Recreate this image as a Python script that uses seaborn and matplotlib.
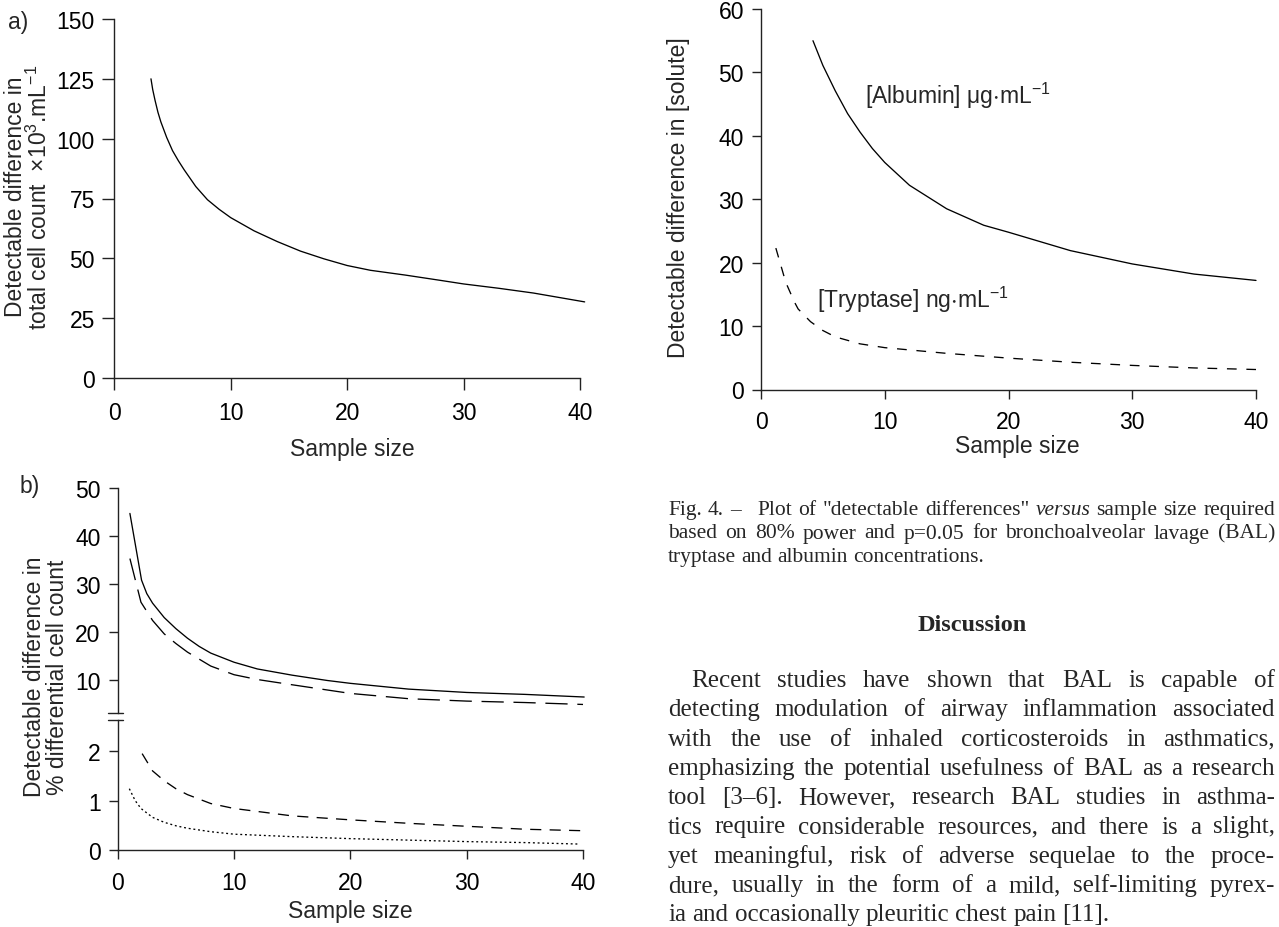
import matplotlib
matplotlib.use("Agg")

import numpy as np
import matplotlib.pyplot as plt
import seaborn as sns

W, H = 1279, 928

# ---- data ---------------------------------------------------------------
# a) total cell count
a_n = [3.15, 3.3, 3.5, 3.75, 4, 4.5, 5, 5.5, 6, 7, 8, 9, 10, 12, 14, 16, 18, 20, 22, 25, 28, 30,
       33, 36, 40.4]
a_diff = [125, 120.5, 116, 111, 107, 100.5, 95, 90.8, 87, 80, 74.5, 70.5, 67, 61.5, 57, 53, 49.8,
          47, 45, 43, 40.8, 39.3, 37.5, 35.5, 31.8]

# b) differential cell count (upper part of broken axis)
b_solid_n = [1.05, 2.05, 2.5, 3, 4, 5, 6, 7, 8, 10, 12, 15, 18, 20, 25, 30, 35, 40.1]
b_solid = [44.7, 30.8, 28, 26, 23, 20.7, 18.7, 17, 15.6, 13.7, 12.3, 11, 9.9, 9.3, 8.1, 7.4, 7.0, 6.45]
b_long_n = [1.05, 2.0, 3, 4, 5, 6, 8, 10, 12, 15, 20, 25, 30, 35, 40]
b_long = [35.3, 26.2, 22.4, 19.6, 17.6, 15.8, 12.9, 11.1, 10.1, 9.0, 7.2, 6.1, 5.6, 5.3, 4.9]
# b) lower part
b_dash_n = [2.1, 3, 4, 5, 6, 8, 10, 15, 20, 25, 30, 35, 40]
b_dash = [1.95, 1.6, 1.4, 1.24, 1.12, 0.94, 0.84, 0.69, 0.61, 0.54, 0.48, 0.42, 0.39]
b_dot_n = [1.0, 1.5, 2, 3, 4, 5, 6, 8, 10, 15, 20, 25, 30, 35, 39.7]
b_dot = [1.24, 1.0, 0.84, 0.66, 0.56, 0.49, 0.44, 0.37, 0.32, 0.27, 0.23, 0.20, 0.17, 0.15, 0.12]

# right panel: solutes
alb_n = [4.2, 5, 6, 7, 8, 9, 10, 12, 15, 18, 20, 25, 30, 35, 40]
alb = [55, 51.1, 47.1, 43.5, 40.6, 38, 35.8, 32.2, 28.5, 25.9, 24.8, 21.9, 19.8, 18.2, 17.2]
try_n = [1.2, 2, 2.7, 3, 4, 5, 6, 8, 10, 15, 20, 25, 30, 35, 40]
tryp = [22.3, 16.9, 13.8, 12.7, 10.7, 9.3, 8.3, 7.2, 6.6, 5.7, 4.95, 4.3, 3.8, 3.4, 3.15]

x_ticks = [0, 10, 20, 30, 40]

caption_lines = [
    [("Fig.", "normal"), ("4.", "normal"), ("–\u2002", "normal"), ("Plot", "normal"), ("of", "normal"),
     ('"detectable', "normal"), ('differences"', "normal"), ("versus", "italic"),
     ("sample", "normal"), ("size", "normal"), ("required", "normal")],
    "based on 80% power and p=0.05 for bronchoalveolar lavage (BAL)",
    "tryptase and albumin concentrations.",
]
discussion_lines = [
    "Recent studies have shown that BAL is capable of",
    "detecting modulation of airway inflammation associated",
    "with the use of inhaled corticosteroids in asthmatics,",
    "emphasizing the potential usefulness of BAL as a research",
    "tool [3–6].  However, research BAL studies in asthma-",
    "tics require considerable resources, and there is a slight,",
    "yet meaningful, risk of adverse sequelae to the proce-",
    "dure, usually in the form of a mild, self-limiting pyrex-",
    "ia and occasionally pleuritic chest pain [11].",
]

# ---- style ---------------------------------------------------------------
sns.set_style("ticks")
SANS = ["Liberation Sans", "DejaVu Sans"]
SERIF = ["Liberation Serif", "DejaVu Serif"]
plt.rcParams["font.family"] = SANS
plt.rcParams["mathtext.default"] = "regular"
plt.rcParams["lines.scale_dashes"] = False
plt.rcParams["axes.edgecolor"] = "#222222"
plt.rcParams["axes.linewidth"] = 1.0
plt.rcParams["xtick.color"] = "#222222"
plt.rcParams["ytick.color"] = "#222222"
plt.rcParams["xtick.labelcolor"] = "black"
plt.rcParams["ytick.labelcolor"] = "black"
FS = 16.5
LW = 0.95

fig = plt.figure(figsize=(W / 100, H / 100), dpi=100)


def px_axes(x0, y_top, x1, y_bot):
    return fig.add_axes([x0 / W, 1 - y_bot / H, (x1 - x0) / W, (y_bot - y_top) / H])


def style_ax(ax, ticklen=7):
    ax.tick_params(labelsize=FS, length=ticklen, width=1.0)
    ax.tick_params(axis="x", pad=8)
    ax.tick_params(axis="y", pad=5.5)
    ax.set_facecolor("none")


def line(ax, x, y, ls="-"):
    sns.lineplot(x=x, y=y, ax=ax, color="black", linewidth=LW, linestyle=ls,
                 clip_on=False, errorbar=None)


# ---- panel a -------------------------------------------------------------
ax_a = px_axes(114.3, 20, 580, 379)
line(ax_a, a_n, a_diff)
ax_a.set_xlim(0, 40)
ax_a.set_ylim(0, 150)
ax_a.set_xticks(x_ticks)
ax_a.set_yticks(range(0, 151, 25))
sns.despine(ax=ax_a)
style_ax(ax_a, 8.5)
fig.text(28 / W, 1 - 197 / H,
         "Detectable difference in\ntotal cell count  $\\times$10$^{3}$.mL$^{-1}$",
         rotation=90, ha="center", va="center", fontsize=FS, linespacing=1.0)
fig.text(352 / W, 1 - 450 / H, "Sample size", ha="center", va="center", fontsize=FS)
fig.text(18 / W, 1 - 22 / H, "a)", ha="center", va="center", fontsize=FS)

# ---- panel b (broken y axis) -------------------------------------------------
ax_bu = px_axes(117.7, 489, 583, 714)
ax_bl = px_axes(117.7, 721, 583, 851)
line(ax_bu, b_solid_n, b_solid)
line(ax_bu, b_long_n, b_long, (0, (16, 7)))
line(ax_bl, b_dash_n, b_dash, (0, (8, 6)))
line(ax_bl, b_dot_n, b_dot, (0, (1.4, 2.0)))
for ax in (ax_bu, ax_bl):
    ax.set_xlim(0, 40)
    style_ax(ax, 6.8)
ax_bu.set_ylim(3.12, 50)
ax_bu.set_yticks([10, 20, 30, 40, 50])
ax_bu.set_xticks([])
sns.despine(ax=ax_bu, bottom=True)
ax_bl.set_ylim(0, 2.63)
ax_bl.set_yticks([0, 1, 2])
ax_bl.set_xticks(x_ticks)
sns.despine(ax=ax_bl)
for ax, yy in ((ax_bu, 0), (ax_bl, 1)):
    ax.plot([-0.021, 0.012], [yy, yy], transform=ax.transAxes, color="#222222",
            lw=1.0, clip_on=False)
fig.text(46 / W, 1 - 677 / H, "Detectable difference in\n% differential cell count",
         rotation=90, ha="center", va="center", fontsize=FS, linespacing=1.0)
fig.text(350 / W, 1 - 912 / H, "Sample size", ha="center", va="center", fontsize=FS)
fig.text(30 / W, 1 - 487 / H, "b)", ha="center", va="center", fontsize=FS)

# ---- right panel -----------------------------------------------------------
ax_c = px_axes(761, 10, 1256, 390.5)
line(ax_c, alb_n, alb)
line(ax_c, try_n, tryp, (0, (7, 7)))
ax_c.set_xlim(0, 40)
ax_c.set_ylim(0, 60)
ax_c.set_xticks(x_ticks)
ax_c.set_yticks(range(0, 61, 10))
sns.despine(ax=ax_c)
style_ax(ax_c, 6.8)
ax_c.text(8.37, 46.5, "[Albumin] $\\mu$g$\\cdot$mL$^{-1}$", ha="left", va="center", fontsize=FS)
ax_c.text(4.5, 14.3, "[Tryptase] ng$\\cdot$mL$^{-1}$", ha="left", va="center", fontsize=FS)
fig.text(679 / W, 1 - 198 / H, "Detectable difference in [solute]",
         rotation=90, ha="center", va="center", fontsize=FS)
fig.text(1017 / W, 1 - 447 / H, "Sample size", ha="center", va="center", fontsize=FS)

for ax in (ax_a, ax_bu, ax_bl, ax_c):
    ax.set_xlabel("")
    ax.set_ylabel("")

# ---- caption and body text (justified) ---------------------------------------
renderer = fig.canvas.get_renderer()


def text_line(words, x0, x1, y_base, size, justify=True, weight="normal"):
    if isinstance(words, str):
        words = [(w, "normal") for w in words.split(" ") if w]
    objs = [fig.text(0, 1 - y_base / H, w, fontsize=size, family=SERIF, style=st,
                     weight=weight, va="baseline", ha="left") for w, st in words]
    widths = [t.get_window_extent(renderer).width for t in objs]
    t1 = fig.text(0, 0, "a a", fontsize=size, family=SERIF)
    t2 = fig.text(0, 0, "aa", fontsize=size, family=SERIF)
    space = t1.get_window_extent(renderer).width - t2.get_window_extent(renderer).width
    t1.remove()
    t2.remove()
    if justify and len(objs) > 1:
        gap = (x1 - x0 - sum(widths)) / (len(objs) - 1)
    else:
        gap = space
    x = x0
    for t, w in zip(objs, widths):
        t.set_x(x / W)
        x += w + gap


CAP_FS = 15.5
cap_base = [515, 538.5, 562]
for i, ln in enumerate(caption_lines):
    text_line(ln, 668, 1275, cap_base[i], CAP_FS, justify=(i < len(caption_lines) - 1))

fig.text(972 / W, 1 - 631 / H, "Discussion", ha="center", va="baseline",
         fontsize=17.5, family=SERIF, weight="bold")

TXT_FS = 18
for i, ln in enumerate(discussion_lines):
    x0 = 691 if i == 0 else 668
    text_line(ln, x0, 1275, 687 + 29.3 * i, TXT_FS, justify=(i < len(discussion_lines) - 1))

fig.savefig("out.png", dpi=100)
